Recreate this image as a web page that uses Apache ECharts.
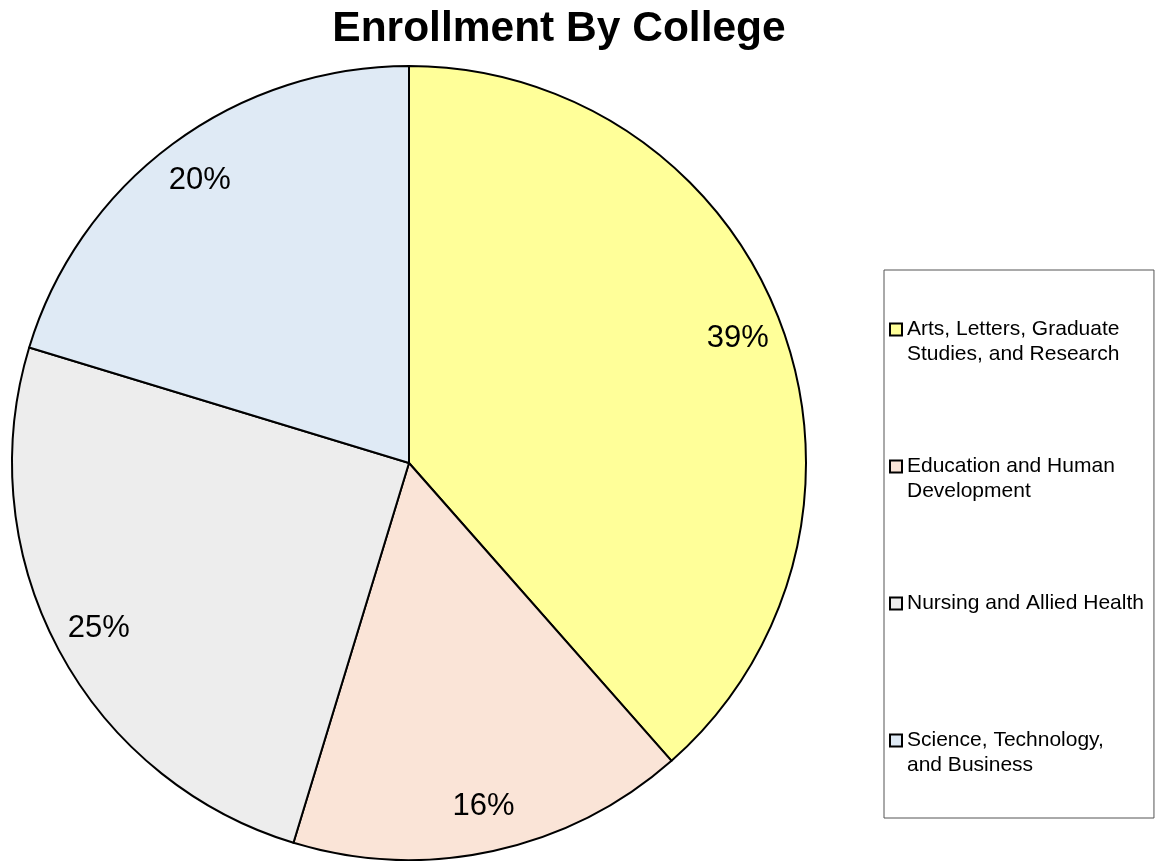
<!DOCTYPE html>
<html>
<head>
<meta charset="utf-8">
<script src="https://cdn.jsdelivr.net/npm/echarts@6/dist/echarts.min.js"></script>
<style>
html,body{margin:0;padding:0;background:#fff;}
#chart{width:1156px;height:861px;}
</style>
</head>
<body>
<div id="chart"></div>
<script>
// Data
var titleText = 'Enrollment By College';
var categories = [
  'Arts, Letters, Graduate Studies, and Research',
  'Education and Human Development',
  'Nursing and Allied Health',
  'Science, Technology, and Business'
];
var legendLines = [
  ['Arts, Letters, Graduate', 'Studies, and Research'],
  ['Education and Human', 'Development'],
  ['Nursing and Allied Health', ''],
  ['Science, Technology,', 'and Business']
];
var values = [38.5, 16.2, 25.0, 20.3];
var colors = ['#FFFF99', '#FAE4D7', '#EDEDED', '#DFEAF5'];

var FONT = 'Liberation Sans, Arial, Helvetica, sans-serif';

var data = categories.map(function (c, i) {
  return { name: c, value: values[i], itemStyle: { color: colors[i] } };
});

var rich = {
  t: { fontFamily: FONT, fontSize: 21, color: '#000', lineHeight: 25, padding: [0, 0, 0, 6] },
  s: { width: 10, height: 10, lineHeight: 25 }
};
colors.forEach(function (col, i) {
  rich['m' + i] = { width: 10, height: 10, backgroundColor: col, borderColor: '#000', borderWidth: 2, lineHeight: 25 };
});

var chart = echarts.init(document.getElementById('chart'), null, { renderer: 'canvas' });
chart.setOption({
  animation: false,
  backgroundColor: '#fff',
  title: {
    text: titleText,
    left: 554,
    textAlign: 'center',
    top: 3,
    textStyle: { fontFamily: FONT, fontSize: 42.5, fontWeight: 'bold', color: '#000' }
  },
  legend: {
    orient: 'vertical',
    left: 884,
    top: 270,
    padding: [47, 10, 40, 1],
    borderColor: '#555',
    borderWidth: 1,
    backgroundColor: '#fff',
    itemWidth: 0,
    itemHeight: 0,
    itemGap: 87,
    icon: 'rect',
    data: categories,
    formatter: function (name) {
      var i = categories.indexOf(name);
      var l = legendLines[i];
      return '{m' + i + '|}{t|' + l[0] + '}\n{s|}{t|' + (l[1] || ' ') + '}';
    },
    textStyle: { rich: rich, lineHeight: 25 }
  },
  series: [
    {
      type: 'pie',
      center: [409, 463],
      radius: 397,
      startAngle: 90,
      clockwise: true,
      data: data,
      label: { show: false },
      labelLine: { show: false },
      itemStyle: { borderColor: '#000', borderWidth: 2 },
      emphasis: { disabled: true }
    },
    {
      type: 'pie',
      center: [409, 463],
      radius: [300, 397],
      startAngle: 90,
      clockwise: true,
      silent: true,
      data: data.map(function (d) { return { name: d.name, value: d.value, itemStyle: { color: 'rgba(0,0,0,0)' } }; }),
      itemStyle: { borderWidth: 0 },
      label: {
        show: true,
        position: 'inside',
        formatter: function (p) { return Math.round(p.percent) + '%'; },
        fontFamily: FONT,
        fontSize: 31,
        color: '#000'
      },
      labelLine: { show: false },
      emphasis: { disabled: true }
    }
  ]
});
</script>
</body>
</html>
